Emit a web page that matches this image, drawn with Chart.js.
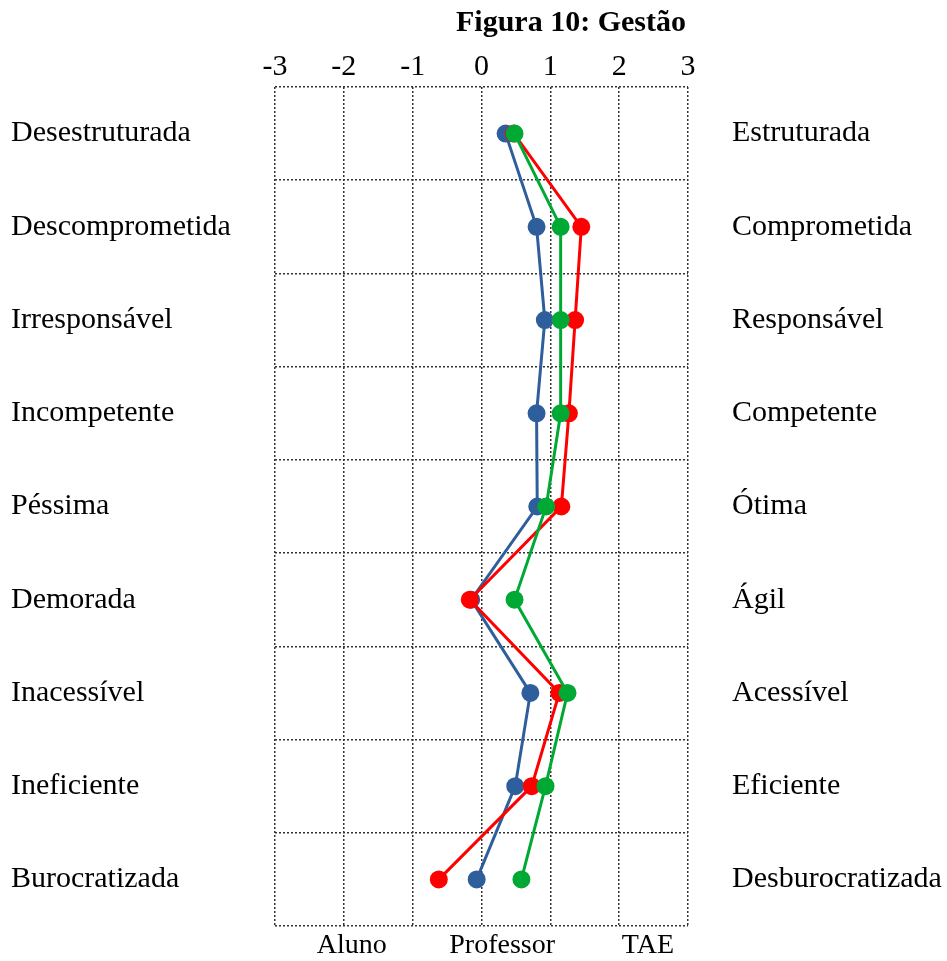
<!DOCTYPE html>
<html>
<head>
<meta charset="utf-8">
<script src="https://cdn.jsdelivr.net/npm/chart.js@4.4.1/dist/chart.umd.min.js"></script>
<style>
  html, body { margin: 0; padding: 0; background: #ffffff; }
  #wrap { width: 947px; height: 961px; position: relative; }
</style>
</head>
<body>
<div id="wrap"><canvas id="c"></canvas></div>
<script>
const chartTitle = "Figura 10: Gestão";
const leftLabels = ["Desestruturada", "Descomprometida", "Irresponsável", "Incompetente", "Péssima", "Demorada", "Inacessível", "Ineficiente", "Burocratizada"];
const rightLabels = ["Estruturada", "Comprometida", "Responsável", "Competente", "Ótima", "Ágil", "Acessível", "Eficiente", "Desburocratizada"];
const seriesNames = ["Aluno", "Professor", "TAE"];
const aluno     = [0.35, 0.80, 0.92, 0.80, 0.81, -0.15, 0.71, 0.49, -0.07];
const professor = [0.47, 1.45, 1.36, 1.27, 1.16, -0.17, 1.13, 0.73, -0.62];
const tae       = [0.48, 1.15, 1.15, 1.15, 0.94, 0.48, 1.25, 0.93, 0.58];
const xTicks = [-3, -2, -1, 0, 1, 2, 3];

const colors = ["#2E5E9B", "#FF0000", "#00A933"];
const serif = "'Liberation Serif', 'Times New Roman', serif";

const overlayPlugin = {
  id: 'overlay',
  afterDraw(chart) {
    const ctx = chart.ctx;
    const ca = chart.chartArea;
    ctx.save();
    ctx.fillStyle = '#000';
    ctx.textBaseline = 'middle';
    ctx.textAlign = 'center';
    ctx.font = "bold 30px " + serif;
    ctx.fillText(chartTitle, 571, 23);
    ctx.font = "28px " + serif;
    const fr = [0.186, 0.55, 0.903];
    seriesNames.forEach((n, i) => {
      ctx.fillText(n, ca.left + fr[i] * (ca.right - ca.left), ca.bottom + 20);
    });
    ctx.restore();
  }
};

const gridColor = '#333';
const noVPad = (s) => { s.paddingTop = 0; s.paddingBottom = 0; };
new Chart(document.getElementById('c'), {
  type: 'line',
  data: {
    labels: leftLabels,
    datasets: [aluno, professor, tae].map((d, i) => ({
      label: seriesNames[i],
      data: d,
      borderColor: colors[i],
      backgroundColor: colors[i],
      pointBackgroundColor: colors[i],
      pointBorderColor: colors[i],
      borderWidth: 3,
      pointRadius: 7.5,
      pointHoverRadius: 7.5,
      tension: 0,
      fill: false,
      order: 3 - i,
      yAxisID: 'y',
      xAxisID: 'x'
    }))
  },
  options: {
    indexAxis: 'y',
    responsive: true,
    maintainAspectRatio: false,
    animation: false,
    layout: { padding: { left: 11, right: 0, top: 47, bottom: 35 } },
    plugins: {
      legend: { display: false },
      title: { display: false },
      tooltip: { enabled: false }
    },
    scales: {
      x: {
        type: 'linear',
        position: 'top',
        min: -3, max: 3,
        afterBuildTicks: (s) => { s.ticks = xTicks.map(v => ({ value: v })); },
        ticks: { color: '#000', font: { family: serif, size: 30 }, padding: 2, callback: (v) => String(v) },
        grid: { color: gridColor, lineWidth: 1.5, drawTicks: false },
        border: { display: false, color: gridColor, dash: [2, 2], width: 1.5 }
      },
      y: {
        type: 'category',
        position: 'left',
        offset: true,
        afterFit: (s) => { s.width = 264; noVPad(s); },
        ticks: { color: '#000', font: { family: serif, size: 30 }, crossAlign: 'far', padding: 0 },
        grid: { color: gridColor, lineWidth: 1.5, drawTicks: false, offset: true },
        border: { display: false, color: gridColor, dash: [2, 2], width: 1.5 }
      },
      y2: {
        type: 'category',
        position: 'right',
        labels: rightLabels,
        offset: true,
        afterFit: (s) => { s.width = 259; noVPad(s); },
        ticks: { color: '#000', font: { family: serif, size: 30 }, padding: 44 },
        grid: { display: false, drawTicks: false },
        border: { display: false }
      }
    }
  },
  plugins: [overlayPlugin]
});
</script>
</body>
</html>
